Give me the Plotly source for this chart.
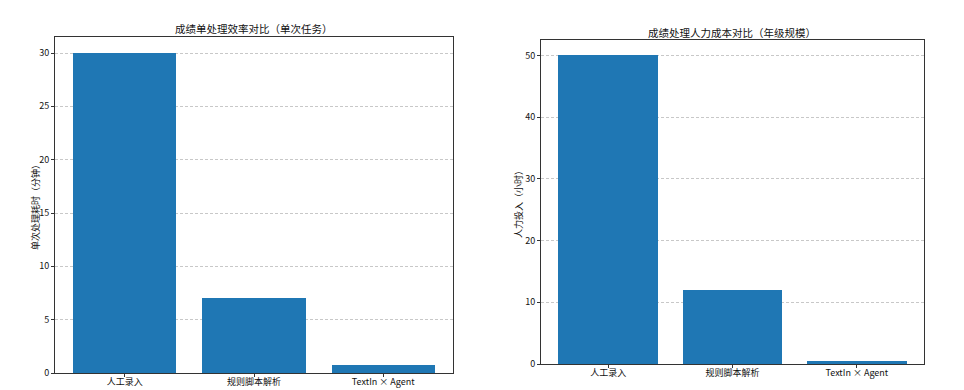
import plotly.graph_objects as go

categories = ["人工录入", "规则脚本解析", "TextIn × Agent"]
time_minutes = [30, 7, 0.75]
labor_hours = [50, 12, 0.5]
titles = ["成绩单处理效率对比（单次任务）", "成绩处理人力成本对比（年级规模）"]
ylabels = ["单次处理耗时（分钟）", "人力投入（小时）"]

W, H = 964, 390
FONT = "Noto Sans CJK SC, SimHei, sans-serif"
BAR = "#1f77b4"

fig = go.Figure()
fig.add_trace(go.Bar(x=[0, 1, 2], y=time_minutes, width=0.8, marker_color=BAR,
                     marker_line_width=0, xaxis="x", yaxis="y", showlegend=False))
fig.add_trace(go.Bar(x=[0, 1, 2], y=labor_hours, width=0.8, marker_color=BAR,
                     marker_line_width=0, xaxis="x2", yaxis="y2", showlegend=False))

def px_dom_x(a, b):
    return [a / W, b / W]

def px_dom_y(top, bottom):
    return [(H - bottom) / H, (H - top) / H]

common_x = dict(tickmode="array", tickvals=[0, 1, 2], ticktext=categories,
                range=[-0.54, 2.54], showgrid=False, zeroline=False, automargin=False,
                showline=True, linecolor="#333", linewidth=1, mirror=True,
                ticks="outside", ticklen=3, tickcolor="#333", ticklabelstandoff=-3,
                tickfont=dict(family=FONT, size=9, color="#111"))
common_y = dict(showgrid=True, gridcolor="#c8c8c8", griddash="3px,2px", gridwidth=0.6,
                zeroline=False, showline=True, linecolor="#333", linewidth=1, mirror=True,
                ticks="outside", ticklen=3, tickcolor="#333", automargin=False,
                tickfont=dict(family=FONT, size=9, color="#111"))

def label(text, x, y, size, angle=0):
    return dict(text=text, x=x / W, y=(H - y) / H, xref="paper", yref="paper",
                showarrow=False, xanchor="center", yanchor="middle", textangle=angle,
                font=dict(family=FONT, size=size, color="#111"))

fig.update_layout(
    width=W, height=H, margin=dict(l=0, r=0, t=0, b=0),
    paper_bgcolor="white", plot_bgcolor="white", bargap=0,
    xaxis=dict(domain=px_dom_x(55, 453), anchor="y", **common_x),
    yaxis=dict(domain=px_dom_y(37, 373), anchor="x", range=[0, 31.5], dtick=5, **common_y),
    xaxis2=dict(domain=px_dom_x(541, 924), anchor="y2", **common_x),
    yaxis2=dict(domain=px_dom_y(40, 364), anchor="x2", range=[0, 52.5], dtick=10, **common_y),
    annotations=[
        label(titles[0], 254, 29, 10.5),
        label(titles[1], 732, 32, 10.5),
        label(ylabels[0], 35, 205, 9, -90),
        label(ylabels[1], 519, 202, 9, -90),
    ],
)

fig.write_html("out.html", config={"displayModeBar": False},
               post_script="document.body.style.margin='0';document.body.style.overflow='hidden';")
